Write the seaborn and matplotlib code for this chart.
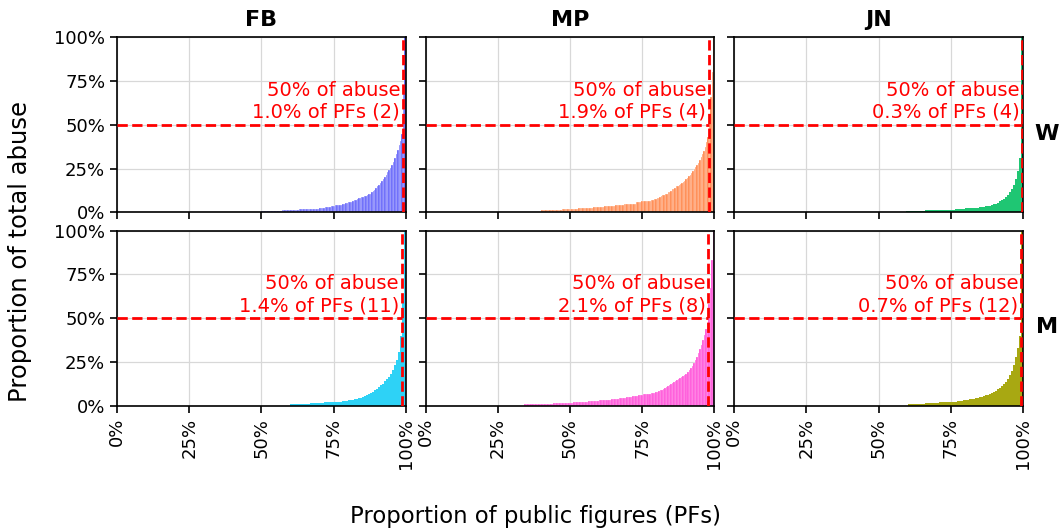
import numpy as np
import matplotlib
matplotlib.use("Agg")
import matplotlib.pyplot as plt
import seaborn as sns
from matplotlib.ticker import PercentFormatter

# ---------------- data ----------------
platforms = ["FB", "MP", "JN"]
groups = ["W", "M"]
x_ticks = [0, 0.25, 0.5, 0.75, 1.0]
y_ticks = [0, 0.25, 0.5, 0.75, 1.0]

# share of PFs receiving 50% of abuse (percent) and their count
top_pct = [[1.0, 1.9, 0.3], [1.4, 2.1, 0.7]]
top_count = [[2, 4, 4], [11, 8, 12]]

# bar heights (percent of total abuse) per PF, sorted; leading zero-height bars counted separately
fb_w_zeros = 100
fb_w_vals = ([0.9] * 14 + [1.35] * 12 + [1.8] * 6 + [2.25] * 8 + [2.7] * 4 + [3.15] * 4 + [3.6] * 3
             + [4.05] * 3 + [4.5] * 2 + [4.95] * 2 + [5.4] * 2
             + [5.7, 5.9, 6.2, 6.6, 7.0, 7.3, 7.6, 8.0, 8.4, 8.6, 8.9, 9.3, 9.6, 10.0, 10.4, 10.8,
                11.5, 12.2, 13.0, 13.9, 14.8, 15.8, 16.8, 17.8, 19.0, 20.3, 21.6, 22.8, 24.0, 25.5,
                27.2, 29.0, 31.0, 33.2, 35.6, 38.2, 41.0, 44.5, 72.0, 100.0])

mp_w_zeros = 84
mp_w_vals = ([1.14] * 15 + [1.7] * 12 + [2.27] * 11 + [2.84] * 8 + [3.4] * 8 + [4.0] * 6 + [4.55] * 5
             + [5.1] * 4 + [5.7] * 4 + [6.25] * 5
             + [6.5, 6.65, 6.9, 7.05, 7.45, 7.6, 8.05, 8.5, 8.6, 9.1, 9.7, 10.2, 10.8, 10.8, 11.4, 11.9,
                12.5, 13.1, 13.6, 14.2, 14.8, 15.3, 15.9, 16.5, 17.0, 17.6, 18.2, 18.8, 19.9, 20.5,
                21.6, 22.7, 23.9, 25.0, 26.1, 27.3, 28.4, 30.1, 31.8, 33.5, 35.2, 37.5, 40.3, 43.2,
                55.0, 66.0, 80.0, 100.0])

jn_w_zeros = 86
jn_w_vals = ([0.8] * 10 + [1.2] * 9 + [1.6] * 6 + [2.0] * 5 + [2.4] * 4 + [2.8] * 3 + [3.2] * 3
             + [3.6] * 2
             + [3.9, 4.2, 4.6, 5.0, 5.6, 6.3, 7.0, 7.8, 8.8, 10.0, 11.5, 13.3, 15.6, 18.8, 23.5, 31.0,
                100.0])

fb_m_zeros = 87
fb_m_vals = ([1.0] * 10 + [1.5] * 7 + [2.0] * 5 + [2.5] * 4 + [3.0] * 3 + [3.5] * 3 + [4.0] * 2
             + [4.3, 4.7, 5.1, 5.6, 6.2, 6.85, 7.5, 8.2, 9.0, 9.8, 10.7, 11.7, 12.8, 14.0, 15.4, 16.6,
                18.5, 20.8, 23.5, 26.5, 30.5, 40.0, 60.0, 100.0])

mp_m_zeros = 65
mp_m_vals = ([1.14] * 19 + [1.7] * 13 + [2.27] * 10 + [2.84] * 7 + [3.4] * 8 + [4.0] * 5 + [4.55] * 5
             + [5.1] * 4 + [5.7] * 4 + [6.25] * 3 + [6.8] * 4
             + [7.1, 7.2, 7.5, 7.6, 8.0, 8.1, 8.5, 9.1, 9.1, 9.7, 10.2, 10.8, 11.4, 11.9, 12.5, 13.1,
                13.6, 14.2, 14.8, 15.3, 15.9, 16.5, 17.0, 17.6, 18.2, 19.3, 20.5, 21.6, 22.7, 24.4,
                26.1, 27.8, 30.1, 32.4, 34.7, 37.5, 40.3, 43.8, 47.5, 58.0, 67.0, 83.0, 100.0])

jn_m_zeros = 87
jn_m_vals = ([1.0] * 9 + [1.5] * 7 + [2.0] * 5 + [2.5] * 4 + [3.0] * 3 + [3.5] * 3 + [4.0] * 2
             + [4.2, 4.4, 4.6, 4.9, 5.2, 5.6, 6.0, 6.45, 6.95, 7.5, 8.1, 8.75, 9.5, 10.3, 11.3, 12.4,
                13.8, 15.5, 17.6, 20.2, 23.5, 27.8, 33.0, 40.0, 100.0])

zeros = [[fb_w_zeros, mp_w_zeros, jn_w_zeros], [fb_m_zeros, mp_m_zeros, jn_m_zeros]]
values = [[fb_w_vals, mp_w_vals, jn_w_vals], [fb_m_vals, mp_m_vals, jn_m_vals]]
colors = [["#5A5AFA", "#FF8040", "#1FC673"], ["#2ED2F6", "#FF4FD8", "#A8A812"]]
edge_lw = [[0.2, 0.2, 0.0], [0.0, 0.15, 0.0]]

# ---------------- plot ----------------
sns.set_style("white")
plt.rcParams["font.family"] = ["DejaVu Sans"]
plt.rcParams["text.color"] = "black"
plt.rcParams["axes.labelcolor"] = "black"
plt.rcParams["xtick.color"] = "black"
plt.rcParams["ytick.color"] = "black"

fig, axes = plt.subplots(2, 3, figsize=(10.63, 5.31), dpi=100, sharex=True, sharey=True)
fig.subplots_adjust(left=117 / 1063, right=1023 / 1063, top=1 - 37 / 531, bottom=1 - 406 / 531,
                    wspace=0.069, hspace=0.103)

for r in range(2):
    for c in range(3):
        ax = axes[r, c]
        heights = np.array([0.0] * zeros[r][c] + values[r][c]) / 100.0
        n = len(heights)
        pos = (np.arange(n) + 0.5) / n
        ax.grid(True, color="#d8d8d8", linewidth=0.9)
        ax.set_axisbelow(True)
        sns.histplot(x=pos, weights=heights, bins=n, binrange=(0, 1), color=colors[r][c],
                     alpha=1.0, edgecolor="white", linewidth=edge_lw[r][c], ax=ax, zorder=2)
        xline = 1 - top_pct[r][c] / 100.0
        ax.plot([0, xline], [0.5, 0.5], color="red", linestyle="--", linewidth=2, zorder=5)
        ax.axvline(xline, color="red", linestyle="--", linewidth=2, zorder=5)
        ax.annotate(f"50% of abuse\n{top_pct[r][c]:.1f}% of PFs ({top_count[r][c]})",
                    xy=(xline, 0.5), xytext=(-2, 2), textcoords="offset points",
                    ha="right", va="bottom", color="red", fontsize=14, zorder=6)
        ax.set_xlim(0, 1)
        ax.set_ylim(0, 1)
        ax.set_xticks(x_ticks)
        ax.set_yticks(y_ticks)
        ax.xaxis.set_major_formatter(PercentFormatter(1.0, decimals=0))
        ax.yaxis.set_major_formatter(PercentFormatter(1.0, decimals=0))
        ax.tick_params(axis="both", direction="out", length=5, width=1.2, labelsize=13,
                       bottom=True, left=True, color="black", labelcolor="black")
        ax.tick_params(axis="x", labelrotation=90)
        ax.set_xlabel("")
        ax.set_ylabel("")
        for s in ax.spines.values():
            s.set_visible(True)
            s.set_color("black")
            s.set_linewidth(1.2)
        if r == 0:
            ax.set_title(platforms[c], fontsize=16, fontweight="bold", pad=8, color="black")

for r in range(2):
    pos_ax = axes[r, 2].get_position()
    fig.text(1047 / 1063, (pos_ax.y0 + pos_ax.y1) / 2 - 9 / 531, groups[r], fontsize=16,
             fontweight="bold", ha="center", va="center", color="black")

fig.text(20 / 1063, 1 - 251 / 531, "Proportion of total abuse", rotation=90, fontsize=17.5,
         ha="center", va="center", color="black")
fig.text(535 / 1063, 1 - 517 / 531, "Proportion of public figures (PFs)", fontsize=16.4,
         ha="center", va="center", color="black")

fig.savefig("out.png", dpi=100)
